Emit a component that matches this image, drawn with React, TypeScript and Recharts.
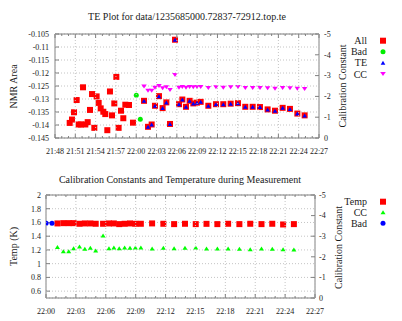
import React from 'react';
import { ScatterChart, Scatter, XAxis, YAxis, CartesianGrid, ReferenceLine } from 'recharts';

// times are minutes after 21:00
const preTimes = [50.17, 50.51, 50.81, 51.2, 51.5, 51.84, 52.14, 52.48, 52.83, 53.17, 53.47, 53.81, 54.15, 54.45, 54.75, 55.14, 55.43, 55.73, 56.12, 56.42, 56.76, 57.06, 57.4, 57.75, 58.09, 58.39, 58.93, 59.52];
const preArea = [-0.1392, -0.1379, -0.1351, -0.1304, -0.1398, -0.1398, -0.1255, -0.1398, -0.1389, -0.1342, -0.1281, -0.1411, -0.129, -0.1315, -0.1336, -0.1349, -0.1358, -0.142, -0.1271, -0.1363, -0.1317, -0.1215, -0.1411, -0.1345, -0.1374, -0.1322, -0.1323, -0.1391];
const badTimes = [60.01, 60.6];
const badArea = [-0.1286, -0.1378];
const badTemp = [1.59, 1.59];
const teTimes = [61.15, 61.74, 62.28, 62.77, 63.36, 63.9, 64.45, 64.99, 65.73, 66.32, 66.81, 67.35, 67.89, 68.43, 68.97, 69.52, 70.65, 71.78, 72.86, 73.95, 75.03, 76.11, 77.2, 78.28, 79.41, 80.5, 81.63, 82.71, 83.8, 84.88];
const teArea = [-0.1307, -0.1407, -0.1398, -0.1326, -0.1289, -0.1335, -0.1313, -0.1396, -0.1072, -0.132, -0.1302, -0.133, -0.1307, -0.1317, -0.1314, -0.1311, -0.1326, -0.132, -0.132, -0.1318, -0.1316, -0.133, -0.133, -0.1331, -0.134, -0.1345, -0.1334, -0.1338, -0.1356, -0.1363];
const ccValues = [-2.47, -2.27, -2.27, -2.42, -2.5, -2.39, -2.44, -2.31, -3.03, -2.42, -2.45, -2.42, -2.45, -2.44, -2.45, -2.45, -2.4, -2.44, -2.42, -2.44, -2.45, -2.4, -2.4, -2.4, -2.39, -2.37, -2.4, -2.39, -2.37, -2.35];
const tempValues = [1.586, 1.59, 1.59, 1.59, 1.581, 1.586, 1.586, 1.581, 1.581, 1.586, 1.586, 1.576, 1.581, 1.586, 1.581, 1.581, 1.586, 1.581, 1.576, 1.581, 1.576, 1.58, 1.576, 1.581, 1.576, 1.581, 1.576, 1.581, 1.571, 1.576];

const topTimeDomain = [48, 87];
const bottomTimeDomain = [60, 87];
const areaDomain = [-0.145, -0.105];
const areaTicks = [-0.145, -0.14, -0.135, -0.13, -0.125, -0.12, -0.115, -0.11, -0.105];
const ccDomain = [-5, 0];
const ccTicks = [-5, -4, -3, -2, -1, 0];
const tempDomain = [0.5, 2];
const tempTicks = [0.6, 0.8, 1, 1.2, 1.4, 1.6, 1.8, 2];

const minuteTicks = (a: number, b: number) => Array.from({ length: b - a + 1 }, (_, i) => a + i);

const FONT = '"Liberation Serif", "DejaVu Serif", serif';
const AXIS = '#808080';
const GRID = '#c4c4c4';
const TXT = '#1a1a1a';

const zip = (ts: number[], vs: number[]) => ts.map((t, i) => ({ t, v: vs[i] }));
const allData = [...zip(preTimes, preArea), ...zip(teTimes, teArea)];
const badData = zip(badTimes, badArea);
const teData = zip(teTimes, teArea);
const ccData = zip(teTimes, ccValues);
const tempData = zip(teTimes, tempValues);
const badTempData = zip(badTimes, badTemp);

const fmtTime = (t: number) => {
  const h = 21 + Math.floor(t / 60);
  const m = Math.round(t % 60);
  return `${h}:${m < 10 ? '0' : ''}${m}`;
};

const makeTimeTick = (plotTop: number, plotBottom: number) => (props: any) => {
  const { x, payload } = props;
  const v = Math.round(payload.value as number);
  const major = v % 3 === 0;
  const len = major ? 4 : 2;
  return (
    <g>
      {major && <line x1={x} x2={x} y1={plotTop} y2={plotBottom} stroke={GRID} strokeDasharray="1 2" />}
      <line x1={x} x2={x} y1={plotBottom} y2={plotBottom - len} stroke={AXIS} />
      <line x1={x} x2={x} y1={plotTop} y2={plotTop + len} stroke={AXIS} />
      {major && (
        <text x={x} y={plotBottom + 15.5} textAnchor="middle" fontSize={8} fontFamily={FONT} fill={TXT}>
          {fmtTime(v)}
        </text>
      )}
    </g>
  );
};

const square = (color: string, s: number) => (p: any) => (
  <rect x={p.cx - s / 2} y={p.cy - s / 2} width={s} height={s} fill={color} />
);
const circle = (color: string, r: number) => (p: any) => <circle cx={p.cx} cy={p.cy} r={r} fill={color} />;
const triUp = (color: string, w: number, h: number) => (p: any) => (
  <polygon points={`${p.cx},${p.cy - h / 2} ${p.cx - w / 2},${p.cy + h / 2} ${p.cx + w / 2},${p.cy + h / 2}`} fill={color} />
);
const triDown = (color: string, w: number, h: number) => (p: any) => (
  <polygon points={`${p.cx - w / 2},${p.cy - h / 2} ${p.cx + w / 2},${p.cy - h / 2} ${p.cx},${p.cy + h / 2}`} fill={color} />
);

const tickStyle = { fontSize: 8, fill: TXT, fontFamily: FONT };
const fmtNum = (v: number) => String(Number(v.toFixed(3)));

export default function App() {
  return (
    <div style={{ position: 'absolute', left: 0, top: 0, width: 402, height: 321, background: '#fff' }}>
      <div style={{ position: 'absolute', left: 0, top: 0 }}>
        <ScatterChart width={402} height={160} margin={{ top: 34, right: 0, bottom: 0, left: 0 }}>
          <CartesianGrid yAxisId="left" vertical={false} stroke={GRID} strokeDasharray="1 2" />
          <XAxis
            type="number"
            dataKey="t"
            domain={topTimeDomain}
            ticks={minuteTicks(topTimeDomain[0], topTimeDomain[1])}
            interval={0}
            tick={makeTimeTick(34, 138)}
            tickLine={false}
            height={22}
            axisLine={{ stroke: AXIS }}
            allowDataOverflow
          />
          <YAxis
            yAxisId="left"
            type="number"
            dataKey="v"
            domain={areaDomain}
            ticks={areaTicks}
            interval={0}
            width={55}
            tickSize={-4}
            tickMargin={10}
            tick={tickStyle}
            tickFormatter={fmtNum}
            tickLine={{ stroke: AXIS }}
            axisLine={{ stroke: AXIS }}
            allowDataOverflow
          />
          <YAxis
            yAxisId="cc"
            orientation="right"
            type="number"
            dataKey="v"
            domain={ccDomain}
            reversed
            ticks={ccTicks}
            interval={0}
            width={83}
            tickSize={-4}
            tickMargin={9}
            tick={{ ...tickStyle, textAnchor: 'start' }}
            tickLine={{ stroke: AXIS }}
            axisLine={{ stroke: AXIS }}
            allowDataOverflow
          />
          <ReferenceLine yAxisId="left" y={areaDomain[1]} stroke={AXIS} ifOverflow="visible" />
          <Scatter yAxisId="left" data={allData} shape={square('#ff0000', 6)} isAnimationActive={false} />
          <Scatter yAxisId="left" data={badData} shape={circle('#00ee00', 2.5)} isAnimationActive={false} />
          <Scatter yAxisId="left" data={teData} shape={triUp('#0000ff', 4.5, 4)} isAnimationActive={false} />
          <Scatter yAxisId="cc" data={ccData} shape={triDown('#ff00ff', 5.5, 4)} isAnimationActive={false} />
        </ScatterChart>
      </div>
      <div style={{ position: 'absolute', left: 0, top: 160 }}>
        <ScatterChart width={402} height={161} margin={{ top: 35, right: 0, bottom: 0, left: 0 }}>
          <CartesianGrid yAxisId="temp" vertical={false} stroke={GRID} strokeDasharray="1 2" />
          <XAxis
            type="number"
            dataKey="t"
            domain={bottomTimeDomain}
            ticks={minuteTicks(bottomTimeDomain[0], bottomTimeDomain[1])}
            interval={0}
            tick={makeTimeTick(35, 138)}
            tickLine={false}
            height={23}
            axisLine={{ stroke: AXIS }}
            allowDataOverflow
          />
          <YAxis
            yAxisId="temp"
            type="number"
            dataKey="v"
            domain={tempDomain}
            ticks={tempTicks}
            interval={0}
            width={46}
            tickSize={-4}
            tickMargin={9}
            tick={tickStyle}
            tickFormatter={fmtNum}
            tickLine={{ stroke: AXIS }}
            axisLine={{ stroke: AXIS }}
            allowDataOverflow
          />
          <YAxis
            yAxisId="cc"
            orientation="right"
            type="number"
            dataKey="v"
            domain={ccDomain}
            reversed
            ticks={ccTicks}
            interval={0}
            width={87}
            tickSize={-4}
            tickMargin={8}
            tick={{ ...tickStyle, textAnchor: 'start' }}
            tickLine={{ stroke: AXIS }}
            axisLine={{ stroke: AXIS }}
            allowDataOverflow
          />
          <ReferenceLine yAxisId="temp" y={tempDomain[1]} stroke={AXIS} ifOverflow="visible" />
          <Scatter yAxisId="temp" data={tempData} shape={square('#ff0000', 6)} isAnimationActive={false} />
          <Scatter yAxisId="cc" data={ccData} shape={triUp('#00ff00', 5, 4)} isAnimationActive={false} />
          <Scatter yAxisId="temp" data={badTempData} shape={circle('#0000ff', 2.5)} isAnimationActive={false} />
        </ScatterChart>
      </div>
      <svg
        width={402}
        height={321}
        style={{ position: 'absolute', left: 0, top: 0, pointerEvents: 'none' }}
        fontFamily={FONT}
        fill={TXT}
      >
        <text x={187} y={20.2} fontSize={10} textAnchor="middle">TE Plot for data/1235685000.72837-72912.top.te</text>
        <text x={180} y={182.5} fontSize={10} textAnchor="middle">Calibration Constants and Temperature during Measurement</text>
        <text transform="translate(16.8,86.5) rotate(-90)" fontSize={10} textAnchor="middle">NMR Area</text>
        <text transform="translate(346.2,86) rotate(-90)" fontSize={10} textAnchor="middle">Calibration Constant</text>
        <text transform="translate(16.8,246.5) rotate(-90)" fontSize={10} textAnchor="middle">Temp (K)</text>
        <text transform="translate(341.8,247.5) rotate(-90)" fontSize={10} textAnchor="middle">Calibration Constant</text>

        <text x={367} y={44.2} fontSize={10} textAnchor="end">All</text>
        <text x={367} y={55.2} fontSize={10} textAnchor="end">Bad</text>
        <text x={367} y={66.2} fontSize={10} textAnchor="end">TE</text>
        <text x={367} y={77.5} fontSize={10} textAnchor="end">CC</text>
        <rect x={380} y={37.7} width={6} height={6} fill="#ff0000" />
        <circle cx={383} cy={51.7} r={2.5} fill="#00ee00" />
        <polygon points="383,60.7 380.7,64.7 385.3,64.7" fill="#0000ff" />
        <polygon points="380.2,72 385.8,72 383,76" fill="#ff00ff" />

        <text x={367} y={205.2} fontSize={10} textAnchor="end">Temp</text>
        <text x={367} y={215.8} fontSize={10} textAnchor="end">CC</text>
        <text x={367} y={226.8} fontSize={10} textAnchor="end">Bad</text>
        <rect x={380} y={198.7} width={6} height={6} fill="#ff0000" />
        <polygon points="383,210.3 380.5,214.3 385.5,214.3" fill="#00ff00" />
        <circle cx={383} cy={223.3} r={2.5} fill="#0000ff" />
      </svg>
    </div>
  );
}
